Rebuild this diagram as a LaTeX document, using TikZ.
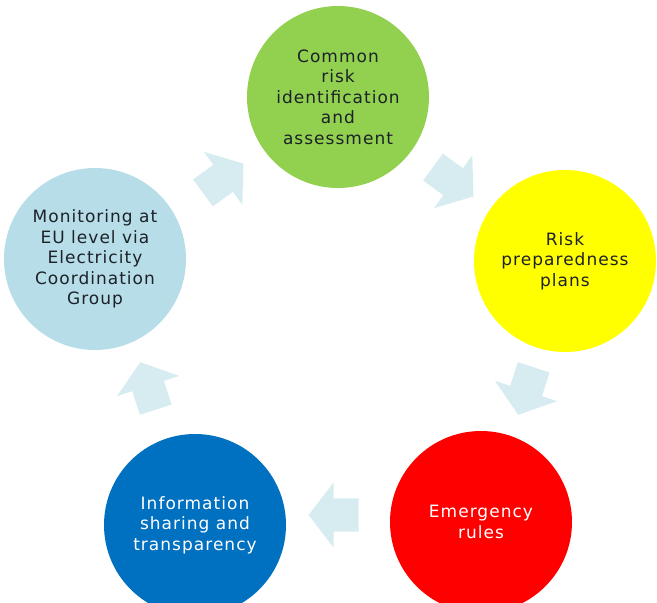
\documentclass[tikz,border=0pt]{standalone}
\usepackage{fontspec}
\setmainfont{DejaVu Sans}[LetterSpace=6]
\usetikzlibrary{shapes.arrows}
\definecolor{leaf}{HTML}{92D050}
\definecolor{sun}{HTML}{FFFF00}
\definecolor{alarm}{HTML}{FF0000}
\definecolor{ocean}{HTML}{0070C0}
\definecolor{mist}{HTML}{B7DDE8}
\definecolor{pale}{HTML}{D7ECF0}
\definecolor{ink}{HTML}{1C2228}

\begin{document}
\begin{tikzpicture}[x=1pt,y=-1pt,
  font=\fontsize{17}{20.5}\selectfont,
  stage/.style={circle,minimum size=182pt,inner sep=0pt,align=center,text=ink},
  turn/.style={single arrow,fill=pale,minimum height=50pt,inner xsep=0pt,inner ysep=16.5pt,
               single arrow head extend=16pt,single arrow tip angle=105}]
\useasboundingbox (0,0) rectangle (657,603);
% the five stages
\node[stage,fill=leaf] (assess) at (338,97) {Common\\risk\\identification\\and\\assessment};
\node[stage,fill=sun] (plans) at (565,261) {Risk\\preparedness\\plans};
\node[stage,fill=alarm,text=white] (rules) at (481,522) {Emergency\\rules};
\node[stage,fill=ocean,text=white] (share) at (195,525) {Information\\sharing and\\transparency};
\node[stage,fill=mist] (monitor) at (95,259) {Monitoring at\\EU level via\\Electricity\\Coordination\\Group};
% the cycle arrows
\node[turn,rotate=36] (t1) at (218,182) {};
\node[turn,rotate=-36] (t2) at (448,178) {};
\node[turn,rotate=-108] (t3) at (528,385) {};
\node[turn,rotate=180] (t4) at (340,515) {};
\node[turn,rotate=108] (t5) at (150,392) {};
\end{tikzpicture}
\end{document}
